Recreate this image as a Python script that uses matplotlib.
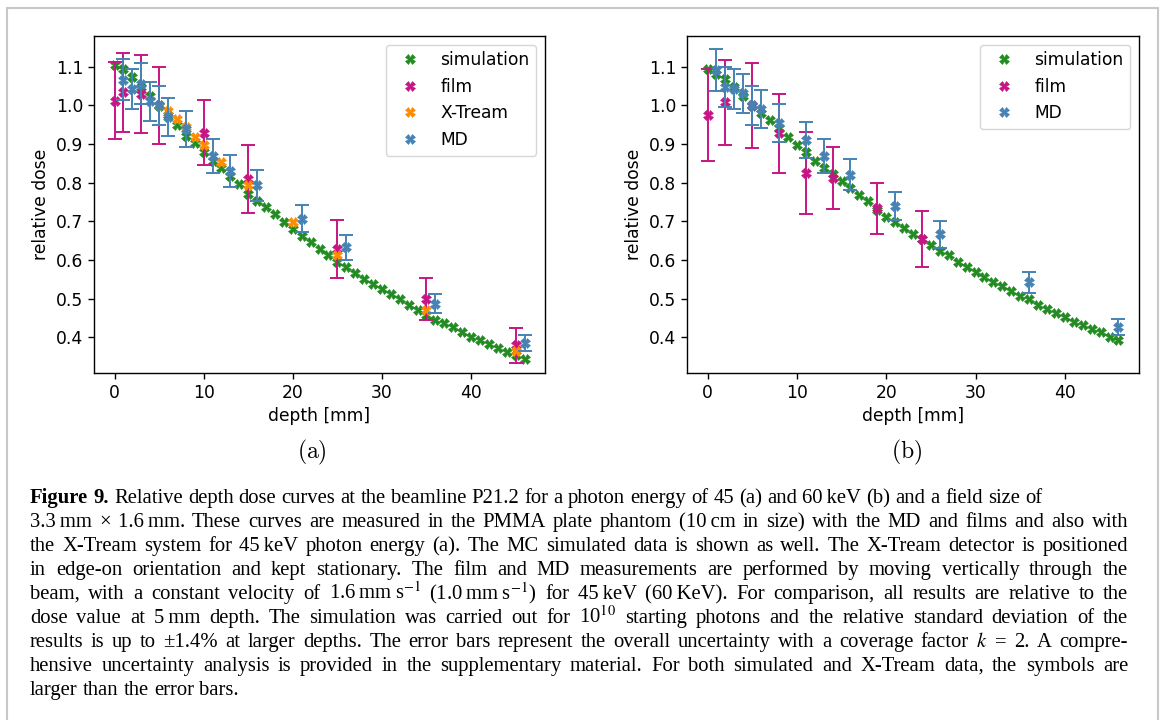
import numpy as np
import matplotlib.pyplot as plt
from matplotlib.patches import Rectangle

# ---- data ----
depth_sim = list(range(47))
sim_45 = [1.103, 1.093, 1.072, 1.048, 1.024, 0.998, 0.975, 0.949, 0.921, 0.902,
          0.880, 0.855, 0.837, 0.816, 0.797, 0.771, 0.752, 0.737, 0.719, 0.697,
          0.681, 0.663, 0.647, 0.628, 0.613, 0.595, 0.581, 0.567, 0.551, 0.539,
          0.525, 0.511, 0.498, 0.485, 0.471, 0.458, 0.446, 0.437, 0.426, 0.414,
          0.402, 0.392, 0.383, 0.373, 0.363, 0.354, 0.343]
sim_60 = [1.093, 1.082, 1.067, 1.047, 1.025, 0.998, 0.981, 0.961, 0.940, 0.917,
          0.897, 0.880, 0.856, 0.839, 0.822, 0.804, 0.787, 0.767, 0.753, 0.728,
          0.712, 0.699, 0.682, 0.668, 0.654, 0.640, 0.624, 0.612, 0.596, 0.581,
          0.569, 0.557, 0.544, 0.532, 0.520, 0.507, 0.498, 0.483, 0.473, 0.464,
          0.452, 0.439, 0.433, 0.422, 0.413, 0.400, 0.392]

film_45_x = [0, 1, 3, 5, 10, 15, 25, 35, 45]
film_45 = [1.012, 1.033, 1.029, 1.000, 0.929, 0.810, 0.628, 0.499, 0.380]
film_45_err = [0.100, 0.103, 0.100, 0.100, 0.084, 0.088, 0.075, 0.055, 0.045]

xtream_45_x = [5, 6, 7, 8, 9, 10, 12, 15, 20, 25, 35, 45]
xtream_45 = [1.000, 0.984, 0.964, 0.943, 0.918, 0.898, 0.853, 0.793, 0.698, 0.613, 0.471, 0.365]

md_45_x = [1, 2, 3, 4, 5, 6, 8, 11, 13, 16, 21, 26, 36, 46]
md_45 = [1.066, 1.042, 1.055, 1.010, 1.000, 0.969, 0.938, 0.869, 0.830, 0.793, 0.707, 0.633, 0.487, 0.386]
md_45_err = [0.053, 0.052, 0.053, 0.051, 0.050, 0.049, 0.046, 0.044, 0.041, 0.040, 0.035, 0.032, 0.025, 0.020]

film_60_x = [0, 2, 5, 8, 11, 14, 19, 24]
film_60 = [0.975, 1.008, 1.000, 0.928, 0.824, 0.812, 0.734, 0.654]
film_60_err = [0.118, 0.110, 0.110, 0.102, 0.106, 0.081, 0.066, 0.072]

md_60_x = [1, 2, 3, 4, 5, 6, 8, 11, 13, 16, 21, 26, 36, 46]
md_60 = [1.091, 1.048, 1.042, 1.031, 1.000, 0.990, 0.954, 0.911, 0.869, 0.821, 0.740, 0.666, 0.543, 0.427]
md_60_err = [0.054, 0.052, 0.052, 0.051, 0.050, 0.050, 0.048, 0.047, 0.043, 0.041, 0.037, 0.034, 0.027, 0.021]

caption = [
    "**Figure 9.** Relative depth dose curves at the beamline P21.2 for a photon energy of 45 (a) and 60\u2009keV (b) and a field size of",
    "3.3\u2009mm × 1.6\u2009mm. These curves are measured in the PMMA plate phantom (10\u2009cm in size) with the MD and films and also with",
    "the X-Tream system for 45\u2009keV photon energy (a). The MC simulated data is shown as well. The X-Tream detector is positioned",
    "in edge-on orientation and kept stationary. The film and MD measurements are performed by moving vertically through the",
    "beam, with a constant velocity of 1.6\u2009mm\u2009s$^{-1}$ (1.0\u2009mm\u2009s$^{-1}$) for 45\u2009keV (60\u2009KeV). For comparison, all results are relative to the",
    "dose value at 5\u2009mm depth. The simulation was carried out for 10$^{10}$ starting photons and the relative standard deviation of the",
    "results is up to ±1.4% at larger depths. The error bars represent the overall uncertainty with a coverage factor $k$ = 2. A compre-",
    "hensive uncertainty analysis is provided in the supplementary material. For both simulated and X-Tream data, the symbols are",
    "larger than the error bars.",
]

W, H = 1165, 720
FS = 12.3
c_sim, c_film, c_xt, c_md = "forestgreen", "mediumvioletred", "darkorange", "steelblue"

plt.rcParams['font.family'] = ['DejaVu Sans']
plt.rcParams['font.size'] = FS
plt.rcParams['axes.linewidth'] = 1.0
plt.rcParams['xtick.major.size'] = 4.3
plt.rcParams['ytick.major.size'] = 4.3
plt.rcParams['xtick.major.width'] = 1.0
plt.rcParams['ytick.major.width'] = 1.0

fig = plt.figure(figsize=(W / 100, H / 100), dpi=100)
ax1 = fig.add_axes([94 / W, 1 - 373 / H, 451 / W, 337 / H])
ax2 = fig.add_axes([687 / W, 1 - 373 / H, 452 / W, 337 / H])

mk = dict(marker='X', ms=6.5, mew=0.4, ls='none')
eb = dict(fmt='none', elinewidth=1.4, capsize=4.8, capthick=1.4)


def panel(ax, sim, film_x, film, film_err, md_x, md, md_err, xt_x=None, xt=None):
    ax.plot(depth_sim, sim, color=c_sim, label='simulation', **mk)
    ax.errorbar(film_x, film, yerr=film_err, ecolor=c_film, **eb)
    ax.plot(film_x, film, color=c_film, label='film', **mk)
    if xt_x is not None:
        ax.plot(xt_x, xt, color=c_xt, label='X-Tream', **mk)
    ax.errorbar(md_x, md, yerr=md_err, ecolor=c_md, **eb)
    ax.plot(md_x, md, color=c_md, label='MD', **mk)
    ax.set_ylim(0.308, 1.179)
    ax.set_xticks([0, 10, 20, 30, 40])
    ax.set_xlabel('depth [mm]')
    ax.set_ylabel('relative dose')
    ax.legend(loc='upper right')


panel(ax1, sim_45, film_45_x, film_45, film_45_err, md_45_x, md_45, md_45_err,
      xtream_45_x, xtream_45)
panel(ax2, sim_60, film_60_x, film_60, film_60_err, md_60_x, md_60, md_60_err)

fig.text(312 / W, 1 - 452 / H, r'$\mathrm{(a)}$', fontsize=17, ha='center', va='center', math_fontfamily='cm')
fig.text(907 / W, 1 - 452 / H, r'$\mathrm{(b)}$', fontsize=17, ha='center', va='center', math_fontfamily='cm')

# outer frame
fig.patches.append(Rectangle((7 / W, -0.1), 1151 / W, 1.1 - 8 / H, transform=fig.transFigure,
                             fill=False, edgecolor='#c8c8c8', lw=1.5))

# caption, justified word by word
CAP_FS = 14.9
x_left, x_right = 30, 1128
base0, step = 503, 24
serif = ['Liberation Serif', 'DejaVu Serif']
r = fig.canvas.get_renderer()
for i, line in enumerate(caption):
    words = []
    for w in line.split(' '):
        bold = w.startswith('**') or w.endswith('**')
        words.append((w.replace('**', ''), bold))
    texts = []
    y = 1 - (base0 + i * step) / H
    for w, bold in words:
        t = fig.text(0, y, w, fontsize=CAP_FS, family=serif, va='baseline', ha='left',
                     weight='bold' if bold else 'normal', math_fontfamily='stix')
        texts.append(t)
    widths = [t.get_window_extent(r).width for t in texts]
    natural = CAP_FS * 100 / 72 * 0.25
    if i in (0, len(caption) - 1):
        gap = natural
    else:
        gap = (x_right - x_left - sum(widths)) / (len(texts) - 1)
    x = x_left
    for t, wd in zip(texts, widths):
        t.set_x(x / W)
        x += wd + gap

fig.savefig('out.png', dpi=100)
